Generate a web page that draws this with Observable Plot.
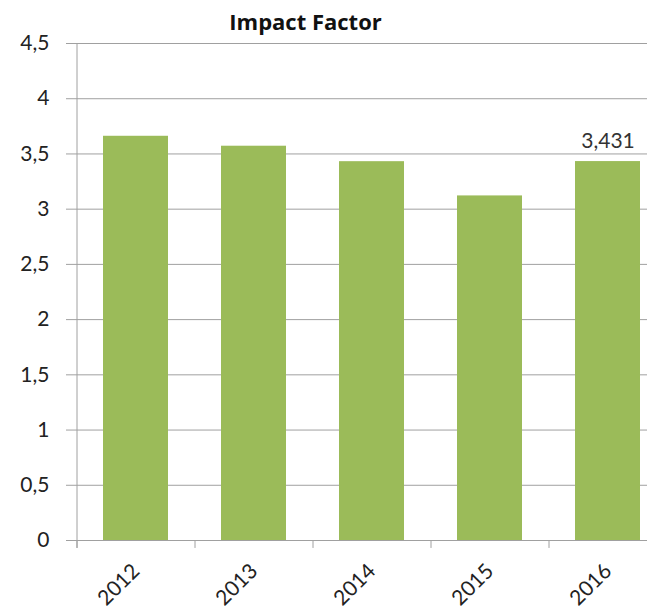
<!DOCTYPE html>
<html><head><meta charset="utf-8">
<script src="https://cdn.jsdelivr.net/npm/d3@7"></script>
<script src="https://cdn.jsdelivr.net/npm/@observablehq/plot@0.6"></script>
<style>html,body{margin:0;padding:0;background:#fff;overflow:hidden;}</style>
</head><body><div id="chart"></div>
<script>
const years = ["2012", "2013", "2014", "2015", "2016"];
const impact = [3.66, 3.57, 3.43, 3.12, 3.431];
const yTicks = [0, 0.5, 1, 1.5, 2, 2.5, 3, 3.5, 4, 4.5];
const labelYear = "2016";
const title = "Impact Factor";

const data = years.map((y, i) => ({year: y, value: impact[i]}));
const W = 647, H = 609, mL = 76, mR = -19, mT = 43, mB = 69;
const half = (W - mL - mR) / years.length / 2;
const fmt = d => String(d).replace(".", ",");
const grid = "#a0a0a0";

const plot = Plot.plot({
  width: W, height: H,
  marginLeft: mL, marginRight: mR, marginTop: mT, marginBottom: mB,
  style: {fontFamily: "Lato, sans-serif", fontSize: "20px", color: "#222", background: "#fff", overflow: "hidden"},
  x: {domain: years, paddingInner: 0.45, paddingOuter: 0.225, label: null},
  y: {domain: [0, 4.5], label: null},
  marks: [
    Plot.gridY(yTicks, {stroke: grid, strokeOpacity: 1}),
    Plot.barY(data, {x: "year", y: "value", fill: "#9BBB59"}),
    Plot.ruleX(years, {x: d => d, dx: -half, y1: 0, y2: -0.072, stroke: grid}),
    Plot.ruleX([years[0]], {x: d => d, dx: -half, y1: -0.072, y2: 4.5, stroke: grid}),
    Plot.axisY(yTicks, {tickFormat: fmt, tickSize: 10, tickPadding: 17, stroke: grid, fill: "#222", fontSize: 21, label: null}),
    Plot.axisX({tickSize: 0, tickRotate: -45, tickPadding: 27, fill: "#222", fontSize: 21, label: null}),
    Plot.text(data.filter(d => d.year === labelYear), {x: "year", y: "value", text: d => fmt(d.value), dy: -20, fontSize: 21, fill: "#333"}),
    Plot.text([title], {frameAnchor: "top", lineAnchor: "middle", dx: -66, dy: -21, fontFamily: "Open Sans, sans-serif", fontWeight: "bold", fontSize: 22, fill: "#111"})
  ]
});
document.getElementById("chart").appendChild(plot);
</script>
</body></html>
